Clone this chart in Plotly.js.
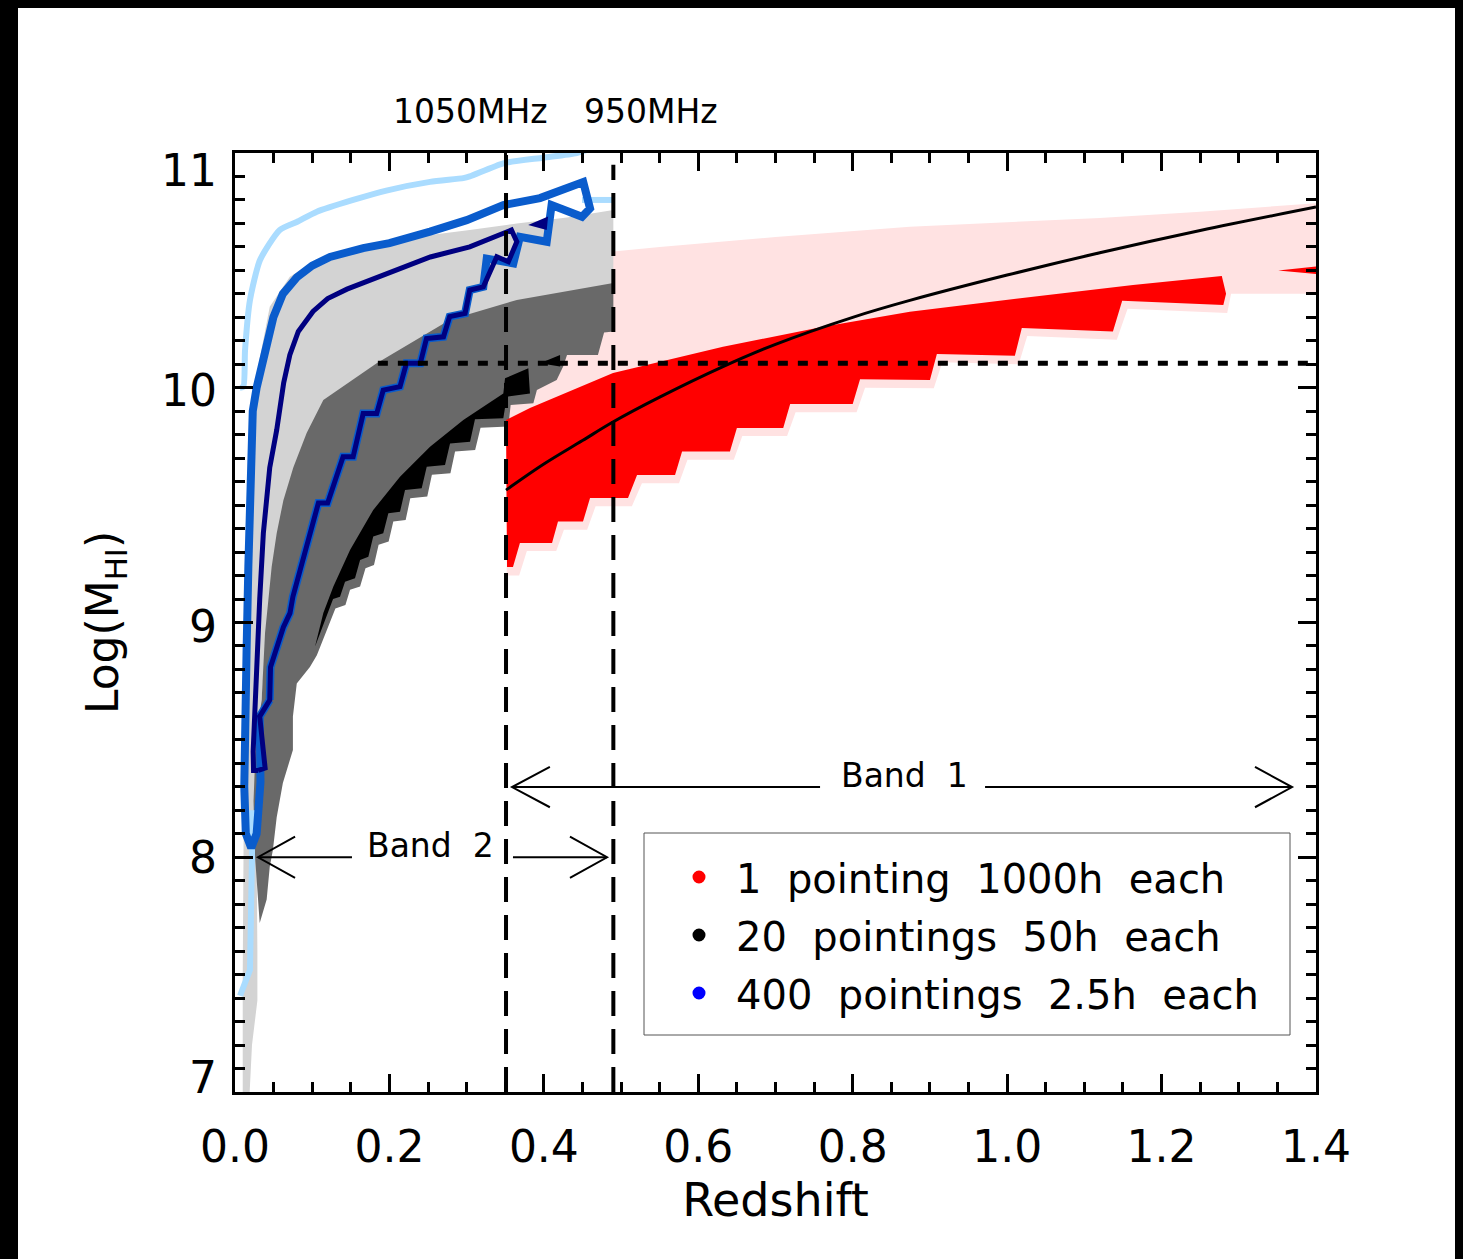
<!DOCTYPE html>
<html>
<head>
<meta charset="utf-8">
<script src="https://cdn.plot.ly/plotly-3.0.1.min.js"></script>
<style>html,body{margin:0;padding:0;background:#000;}</style>
</head>
<body>
<div id="chart" style="width:1463px;height:1259px;"></div>
<script>
// ---------------- data (redshift z, log M_HI) ----------------
// 1 pointing 1000h : light (pink) band
const pinkTopZ = [0.351, 0.40, 0.45, 0.49, 0.55, 0.70, 0.874, 1.00, 1.12, 1.25, 1.40];
const pinkTopM = [10.52, 10.54, 10.56, 10.58, 10.60, 10.642, 10.686, 10.705, 10.723, 10.75, 10.786];
const pinkBotZ = [0.352, 0.368, 0.378, 0.416, 0.426, 0.456, 0.467, 0.514, 0.527, 0.575, 0.586, 0.646, 0.657, 0.715, 0.726, 0.805, 0.816, 0.905, 0.916, 1.015, 1.026, 1.142, 1.156, 1.285, 1.29, 1.40];
const pinkBotM = [9.20, 9.20, 9.305, 9.305, 9.395, 9.395, 9.495, 9.495, 9.593, 9.593, 9.693, 9.693, 9.794, 9.794, 9.896, 9.896, 10.0, 9.998, 10.109, 10.10, 10.22, 10.205, 10.336, 10.318, 10.40, 10.40];
// 1 pointing 1000h : red stepped band
const redTopZ = [0.351, 0.382, 0.4896, 0.632, 0.7616, 0.874, 1.0335, 1.163, 1.278];
const redTopM = [9.863, 9.914, 10.063, 10.175, 10.26, 10.324, 10.388, 10.438, 10.476];
const redBotZ = [0.3523, 0.360, 0.369, 0.4106, 0.4183, 0.4507, 0.4598, 0.509, 0.5207, 0.5699, 0.579, 0.641, 0.650, 0.710, 0.719, 0.800, 0.8095, 0.900, 0.909, 1.010, 1.019, 1.137, 1.149, 1.280, 1.2835];
const redBotM = [9.236, 9.236, 9.339, 9.339, 9.43, 9.43, 9.53, 9.53, 9.628, 9.628, 9.728, 9.728, 9.829, 9.829, 9.931, 9.931, 10.036, 10.033, 10.144, 10.136, 10.255, 10.24, 10.371, 10.353, 10.40];
const redTipZ = [1.351, 1.40, 1.40];
const redTipM = [10.499, 10.516, 10.485];

// 20 pointings 50h : light grey band
const lgZ = [0.010, 0.010, 0.011, 0.012, 0.013, 0.016, 0.022, 0.030, 0.045, 0.071, 0.106, 0.166, 0.235, 0.304, 0.365, 0.43, 0.49,
             0.49, 0.365, 0.2785, 0.1835, 0.1144, 0.0755, 0.054, 0.040, 0.030, 0.028, 0.029, 0.029, 0.022, 0.019];
const lgM = [7.0, 7.5, 8.0, 8.5, 9.0, 9.5, 9.8, 10.09, 10.345, 10.473, 10.544, 10.60, 10.643, 10.672, 10.70, 10.725, 10.757,
             10.40, 10.33, 10.25, 10.05, 9.90, 9.60, 9.30, 8.90, 8.50, 8.00, 7.60, 7.39, 7.20, 7.0];
// 20 pointings 50h : dark grey band
const dgZ = [0.032, 0.029, 0.026, 0.024, 0.027, 0.0345, 0.0367, 0.0389, 0.0432, 0.0475, 0.054, 0.0626, 0.0755, 0.0928, 0.1144, 0.1835, 0.2785, 0.365, 0.49,
             0.49, 0.478, 0.470, 0.430, 0.425, 0.4166, 0.391, 0.3864, 0.357, 0.354, 0.318, 0.311, 0.285, 0.279, 0.255, 0.249, 0.227, 0.221, 0.205, 0.199, 0.186, 0.180, 0.169, 0.162, 0.149, 0.143, 0.130,
             0.106, 0.097, 0.080, 0.075, 0.075, 0.062, 0.054, 0.049, 0.045, 0.041];
const dgM = [7.72, 7.85, 8.0, 8.24, 8.5, 8.67, 8.81, 8.955, 9.096, 9.237, 9.38, 9.52, 9.66, 9.807, 9.948, 10.104, 10.29, 10.374, 10.446,
             10.24, 10.235, 10.14, 10.14, 10.09, 10.033, 9.99, 9.934, 9.927, 9.835, 9.83, 9.735, 9.728, 9.636, 9.629, 9.537, 9.529, 9.437, 9.43, 9.345, 9.331, 9.245, 9.231, 9.153, 9.139, 9.075, 9.06,
             8.86, 8.81, 8.74, 8.60, 8.457, 8.316, 8.17, 8.03, 7.96, 7.82];
// 20 pointings 50h : black stepped band
const blkZ = [0.1036, 0.1144, 0.1274, 0.149, 0.179, 0.2137, 0.2526, 0.2957, 0.3475, 0.3497, 0.3799, 0.382, 0.352, 0.3475, 0.3108, 0.3044, 0.2785, 0.272, 0.2483, 0.2418, 0.2202, 0.2137, 0.1986, 0.192, 0.179, 0.1727, 0.162, 0.1554, 0.1425, 0.136, 0.127];
const blkM = [8.897, 9.04, 9.153, 9.309, 9.479, 9.621, 9.749, 9.863, 9.975, 10.04, 10.083, 9.976, 9.962, 9.87, 9.866, 9.77, 9.763, 9.671, 9.664, 9.572, 9.564, 9.472, 9.465, 9.38, 9.366, 9.28, 9.266, 9.188, 9.174, 9.11, 9.10];
const blkTriZ = [0.395, 0.421, 0.421];
const blkTriM = [10.104, 10.14, 10.09];

// 400 pointings 2.5h : contours
const lbTopZ = [0.0065, 0.0108, 0.013, 0.0194, 0.0324, 0.058, 0.08, 0.106, 0.153, 0.196, 0.2526, 0.2957, 0.304, 0.3475, 0.399, 0.4425, 0.47];
const lbTopM = [10.0, 10.004, 10.16, 10.374, 10.544, 10.672, 10.706, 10.75, 10.80, 10.84, 10.877, 10.893, 10.90, 10.956, 10.98, 11.0, 11.03];
const lbBotZ = [0.0065, 0.0194, 0.022, 0.022];
const lbBotM = [7.41, 7.52, 8.0, 8.2];
const lbEndZ = [0.4494, 0.4896];
const lbEndM = [10.80, 10.80];
const bluZ = [0.045, 0.032, 0.033, 0.028, 0.021, 0.014, 0.012, 0.013, 0.015, 0.0173, 0.0194, 0.023, 0.028, 0.035, 0.042, 0.0497, 0.062, 0.08, 0.10, 0.123, 0.166, 0.20, 0.2526, 0.30, 0.3475, 0.395, 0.451, 0.4598, 0.4494, 0.410, 0.4037, 0.369, 0.3605, 0.326, 0.3216,
              0.304, 0.298, 0.278, 0.27, 0.248, 0.24, 0.222, 0.2137, 0.192, 0.1835, 0.166, 0.153, 0.14, 0.12, 0.108, 0.075, 0.0712, 0.0626, 0.046, 0.045];
const bluM = [8.67, 8.60, 8.32, 8.10, 8.04, 8.10, 8.30, 8.67, 8.88, 9.24, 9.60, 9.90, 10.0, 10.09, 10.20, 10.30, 10.40, 10.47, 10.52, 10.557, 10.595, 10.616, 10.665, 10.714, 10.778, 10.808, 10.876, 10.764, 10.728, 10.778, 10.622, 10.643, 10.53, 10.55, 10.43,
              10.416, 10.317, 10.303, 10.217, 10.21, 10.104, 10.104, 10.005, 9.99, 9.89, 9.89, 9.706, 9.706, 9.509, 9.509, 9.11, 9.04, 8.98, 8.81, 8.67];
const navZ = [0.030, 0.024, 0.0235, 0.0275, 0.032, 0.0367, 0.045, 0.054, 0.058, 0.063, 0.071, 0.082, 0.101, 0.12, 0.145, 0.21, 0.253, 0.304, 0.34, 0.358,
              0.365, 0.354, 0.339, 0.330, 0.3216, 0.304, 0.298, 0.278, 0.27, 0.248, 0.24, 0.222, 0.2137, 0.192, 0.1835, 0.166, 0.153, 0.14, 0.12, 0.108, 0.075, 0.0712, 0.0626, 0.046, 0.045, 0.032, 0.039, 0.030];
const navM = [8.37, 8.37, 8.45, 8.81, 9.10, 9.38, 9.66, 9.82, 9.905, 10.02, 10.14, 10.24, 10.325, 10.38, 10.42, 10.50, 10.557, 10.60, 10.65, 10.672,
              10.622, 10.537, 10.558, 10.487, 10.43, 10.416, 10.317, 10.303, 10.217, 10.21, 10.104, 10.104, 10.005, 9.99, 9.89, 9.89, 9.706, 9.706, 9.509, 9.509, 9.11, 9.04, 8.98, 8.81, 8.67, 8.60, 8.38, 8.37];
const navTriZ = [0.3797, 0.4055, 0.4037];
const navTriM = [10.693, 10.729, 10.672];

// reference curve and limits
const curveZ = [0.351, 0.40, 0.45, 0.49, 0.55, 0.632, 0.70, 0.80, 0.874, 1.00, 1.12, 1.25, 1.40];
const curveM = [9.564, 9.675, 9.775, 9.855, 9.96, 10.09, 10.185, 10.30, 10.372, 10.48, 10.575, 10.67, 10.77];
const bandEdgeZ = [0.351, 0.490];      // 1050 MHz, 950 MHz
const bandEdgeTop = [11.0, 10.95];
const limitM = 10.104;
const limitZ = [0.185, 1.40];

const xTickVals = [0, 0.2, 0.4, 0.6, 0.8, 1.0, 1.2, 1.4];
const yTickVals = [7, 8, 9, 10, 11];
const yTickText = ['7', '8', '9', '10', '11'];
const legendLabels = ['1\u00a0\u00a0pointing\u00a0\u00a01000h\u00a0\u00a0each', '20\u00a0\u00a0pointings\u00a0\u00a050h\u00a0\u00a0each', '400\u00a0\u00a0pointings\u00a0\u00a02.5h\u00a0\u00a0each'];
const legendColors = ['#ff0000', '#000000', '#0000ff'];

// ---------------- traces ----------------
const FONT = 'DejaVu Sans';
function closed(topZ, topM, botZ, botM) {
  return {x: topZ.concat(botZ.slice().reverse()), y: topM.concat(botM.slice().reverse())};
}
function fillTrace(xs, ys, color) {
  return {x: xs, y: ys, type: 'scatter', mode: 'lines', fill: 'toself', fillcolor: color,
          line: {width: 0, color: color}, hoverinfo: 'skip', showlegend: false};
}
function lineTrace(xs, ys, line) {
  return {x: xs, y: ys, type: 'scatter', mode: 'lines', line: line, hoverinfo: 'skip', showlegend: false};
}
const pink = closed(pinkTopZ, pinkTopM, pinkBotZ, pinkBotM);
const red = closed(redTopZ, redTopM, redBotZ, redBotM);

const traces = [
  fillTrace(pink.x, pink.y, '#ffe2e2'),
  fillTrace(lgZ, lgM, '#d3d3d3'),
  fillTrace(dgZ, dgM, '#696969'),
  fillTrace(blkZ, blkM, '#000000'),
  fillTrace(blkTriZ, blkTriM, '#000000'),
  fillTrace(red.x, red.y, '#ff0000'),
  fillTrace(redTipZ, redTipM, '#ff0000'),
  lineTrace(lbBotZ, lbBotM, {width: 6, color: '#aadcff'}),
  lineTrace(lbTopZ, lbTopM, {width: 6, color: '#aadcff', shape: 'spline', smoothing: 0.6}),
  lineTrace(lbEndZ, lbEndM, {width: 6, color: '#aadcff'}),
  lineTrace(bluZ, bluM, {width: 8, color: '#0a5ccc'}),
  lineTrace(navZ, navM, {width: 5, color: '#000080'}),
  fillTrace(navTriZ, navTriM, '#000080'),
  lineTrace(curveZ, curveM, {width: 3, color: '#000', shape: 'spline'}),
  lineTrace([bandEdgeZ[0], bandEdgeZ[0]], [7, bandEdgeTop[0]], {width: 4, color: '#000', dash: '25px,13px'}),
  lineTrace([bandEdgeZ[1], bandEdgeZ[1]], [7, bandEdgeTop[1]], {width: 4, color: '#000', dash: '25px,13px'}),
  lineTrace(limitZ, [limitM, limitM], {width: 5, color: '#000', dash: '10px,10px'})
];

// ---------------- layout helpers ----------------
const plotL = 235, plotR = 1316, plotT = 153, plotB = 1092;
const px2paperX = p => (p - plotL) / (plotR - plotL);
const px2paperY = p => (plotB - p) / (plotB - plotT);

const shapes = [
  {type: 'rect', xref: 'paper', yref: 'paper', layer: 'below',
   x0: px2paperX(18), x1: px2paperX(1455), y0: px2paperY(1262), y1: px2paperY(8),
   fillcolor: '#ffffff', line: {width: 0}},
  // legend box
  {type: 'rect', xref: 'paper', yref: 'paper',
   x0: px2paperX(644), x1: px2paperX(1290), y0: px2paperY(1035), y1: px2paperY(833),
   fillcolor: 'rgba(255,255,255,0)', line: {width: 1, color: '#555'}}
];
function hLine(z0, z1, m) {
  return {type: 'line', xref: 'x', yref: 'y', x0: z0, x1: z1, y0: m, y1: m, line: {width: 2, color: '#000'}};
}
function chevron(zTip, m, dz, dm) {
  return {type: 'path', xref: 'x', yref: 'y',
    path: `M ${zTip + dz} ${m + dm} L ${zTip} ${m} L ${zTip + dz} ${m - dm}`,
    line: {width: 2, color: '#000'}};
}
shapes.push(hLine(0.0298, 0.1515, 8.0), hLine(0.360, 0.4818, 8.0));
shapes.push(chevron(0.0298, 8.0, 0.048, 0.088), chevron(0.4818, 8.0, -0.048, 0.088));
shapes.push(hLine(0.3588, 0.7577, 8.299), hLine(0.9714, 1.369, 8.299));
shapes.push(chevron(0.3588, 8.299, 0.049, 0.086), chevron(1.369, 8.299, -0.048, 0.086));

const rowsPy = [877, 935, 993];
legendColors.forEach((c, i) => {
  shapes.push({type: 'circle', xref: 'paper', yref: 'paper', xsizemode: 'pixel', ysizemode: 'pixel',
    xanchor: px2paperX(699), yanchor: px2paperY(rowsPy[i]), x0: -6.5, x1: 6.5, y0: -6.5, y1: 6.5,
    fillcolor: c, line: {width: 0}});
});

const annotations = [
  {text: '1050MHz', xref: 'x', yref: 'paper', x: 0.3044, y: px2paperY(112), showarrow: false,
   font: {family: FONT, size: 33, color: '#000'}, xanchor: 'center', yanchor: 'middle'},
  {text: '950MHz', xref: 'x', yref: 'paper', x: 0.5394, y: px2paperY(112), showarrow: false,
   font: {family: FONT, size: 33, color: '#000'}, xanchor: 'center', yanchor: 'middle'},
  {text: 'Band\u00a0\u00a02', xref: 'x', yref: 'y', x: 0.2532, y: 8.05, showarrow: false,
   font: {family: FONT, size: 33, color: '#000'}, xanchor: 'center', yanchor: 'middle'},
  {text: 'Band\u00a0\u00a01', xref: 'x', yref: 'y', x: 0.8665, y: 8.35, showarrow: false,
   font: {family: FONT, size: 33, color: '#000'}, xanchor: 'center', yanchor: 'middle'}
];
legendLabels.forEach((t, i) => {
  annotations.push({text: t, xref: 'paper', yref: 'paper', x: px2paperX(734), y: px2paperY(rowsPy[i] + 2),
    showarrow: false, font: {family: FONT, size: 40, color: '#000'}, xanchor: 'left', yanchor: 'middle'});
});
// y tick labels (end labels pulled inside the axis span, as in the original)
const yLabelShift = [15, 0, -4, -3, -17];
yTickVals.forEach((v, i) => {
  annotations.push({text: yTickText[i], xref: 'paper', yref: 'y', x: px2paperX(219), y: v, yshift: yLabelShift[i],
    showarrow: false, font: {family: FONT, size: 44, color: '#000'}, xanchor: 'right', yanchor: 'middle'});
});

const axisCommon = {
  showgrid: false, zeroline: false, showline: true, linewidth: 3, linecolor: '#000',
  mirror: 'ticks', ticks: 'inside', ticklen: 18, tickwidth: 3, tickcolor: '#000',
  tickfont: {family: FONT, size: 44, color: '#000'}
};
const layout = {
  width: 1463, height: 1259,
  margin: {l: plotL, r: 1463 - plotR, t: plotT, b: 1259 - plotB},
  paper_bgcolor: '#000000', plot_bgcolor: '#ffffff',
  showlegend: false,
  xaxis: Object.assign({}, axisCommon, {
    range: [0, 1.4], tickvals: xTickVals, tickformat: '.1f', ticklabelstandoff: 14,
    minor: {dtick: 0.05, tick0: 0, ticks: 'inside', ticklen: 10, tickwidth: 3, tickcolor: '#000'},
    title: {text: 'Redshift', font: {family: FONT, size: 46, color: '#000'}, standoff: 14}
  }),
  yaxis: Object.assign({}, axisCommon, {
    range: [7, 11], tickvals: yTickVals, showticklabels: false,
    minor: {dtick: 0.1, tick0: 7, ticks: 'inside', ticklen: 10, tickwidth: 3, tickcolor: '#000'},
    title: {text: 'Log(M<sub>HI</sub>)', font: {family: FONT, size: 44, color: '#000'}, standoff: 100}
  }),
  shapes: shapes,
  annotations: annotations
};

Plotly.newPlot('chart', traces, layout, {staticPlot: true, displayModeBar: false});
</script>
</body>
</html>
